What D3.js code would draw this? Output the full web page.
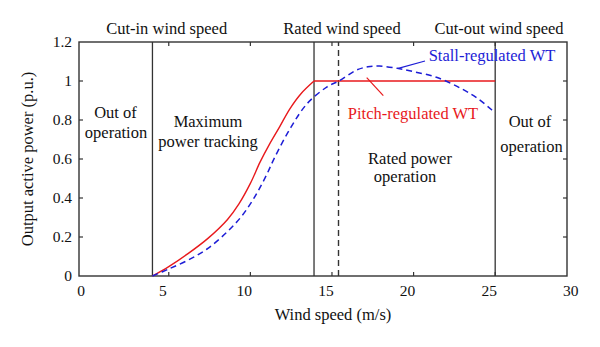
<!DOCTYPE html>
<html>
<head>
<meta charset="utf-8">
<script src="https://cdn.jsdelivr.net/npm/d3@7"></script>
<style>
  body { margin: 0; background: #fff; }
  svg text { font-family: "Liberation Serif", "Times New Roman", serif; }
</style>
</head>
<body>
<svg id="chart"></svg>
<script>
// wind speed (m/s) and power (p.u.)
let pitchSpeed = [4, 5, 6.2, 7.4, 8.6, 9.3, 10.0, 10.6, 11.2, 11.8, 12.4, 13.1, 13.9];
let pitchPower = [0, 0.048, 0.116, 0.193, 0.29, 0.37, 0.475, 0.585, 0.68, 0.766, 0.855, 0.935, 1.0];
let stallSpeed = [4, 4.95, 6.2, 7.4, 8.6, 9.4, 10.0, 10.5, 11.0, 11.5, 12.5, 13.5, 14.7, 15.4, 16.5, 17.2, 17.9, 19.0, 20.0, 21.4, 22.9, 23.9, 24.8, 25];
let stallPower = [0, 0.034, 0.082, 0.142, 0.228, 0.30, 0.37, 0.44, 0.52, 0.61, 0.765, 0.886, 0.97, 0.999, 1.056, 1.073, 1.077, 1.065, 1.048, 1.019, 0.962, 0.912, 0.851, 0.836];
let cutIn = 4, rated = 13.9, ratedStall = 15.4, cutOut = 25;
let xTicks = [0, 5, 10, 15, 20, 25, 30];
let yTicks = [0, 0.2, 0.4, 0.6, 0.8, 1, 1.2];

function drawChart() {
    let w = 600, h = 347;
    let svg = d3.select("#chart").attr("width", w).attr("height", h);

    let x = d3.scaleLinear().domain([-0.5, 29.4]).range([79, 567]);
    let y = d3.scaleLinear().domain([0, 1.2]).range([276, 42]);
    let [x0, x1] = x.range(), [y0, y1] = y.range();
    let ink = "#333";

    // ticks pointing inwards, all four sides
    let inner = [5, 10, 15, 20, 25];
    svg.append("g").selectAll("line").data(inner).enter().append("line")
        .attr("x1", d => x(d)).attr("x2", d => x(d)).attr("y1", y0).attr("y2", y0 - 4)
        .attr("stroke", ink).attr("stroke-width", 1.2);
    svg.append("g").selectAll("line").data(inner).enter().append("line")
        .attr("x1", d => x(d)).attr("x2", d => x(d)).attr("y1", y1).attr("y2", y1 + 4)
        .attr("stroke", ink).attr("stroke-width", 1.2);
    svg.append("g").selectAll("line").data(yTicks.slice(1, -1)).enter().append("line")
        .attr("x1", x0).attr("x2", x0 + 4).attr("y1", d => y(d)).attr("y2", d => y(d))
        .attr("stroke", ink).attr("stroke-width", 1.2);
    svg.append("g").selectAll("line").data(yTicks.slice(1, -1)).enter().append("line")
        .attr("x1", x1).attr("x2", x1 - 4).attr("y1", d => y(d)).attr("y2", d => y(d))
        .attr("stroke", ink).attr("stroke-width", 1.2);

    // tick labels
    let xAxis = svg.append("g").attr("transform", `translate(0,${y0})`)
        .call(d3.axisBottom(x).tickValues(xTicks).tickSize(0).tickPadding(9).tickFormat(d3.format("d")));
    xAxis.select(".domain").remove();
    xAxis.selectAll("text").attr("dx", -6.5).style("font-size", "15.5px").attr("fill", "#111");

    let yAxis = svg.append("g").attr("transform", `translate(${x0},0)`)
        .call(d3.axisLeft(y).tickValues(yTicks).tickSize(0).tickPadding(7).tickFormat(d => d3.format("~g")(d)));
    yAxis.select(".domain").remove();
    yAxis.selectAll("text").style("font-size", "15.5px").attr("fill", "#111");

    // box
    svg.append("rect").attr("x", x0).attr("y", y1).attr("width", x1 - x0).attr("height", y0 - y1)
        .attr("fill", "none").attr("stroke", ink).attr("stroke-width", 1.4);

    // region boundaries
    svg.selectAll(".vline").data([cutIn, rated, cutOut]).enter().append("line")
        .attr("x1", d => x(d)).attr("x2", d => x(d)).attr("y1", y0).attr("y2", y1)
        .attr("stroke", ink).attr("stroke-width", 1.3);
    svg.append("line")
        .attr("x1", x(ratedStall)).attr("x2", x(ratedStall)).attr("y1", y0).attr("y2", y1)
        .attr("stroke", ink).attr("stroke-width", 1.4).attr("stroke-dasharray", "6,4");

    // power curves
    let curve = d3.line().x(d => x(d[0])).y(d => y(d[1])).curve(d3.curveCatmullRom.alpha(0.5));
    svg.append("path").attr("d", curve(d3.zip(pitchSpeed, pitchPower)))
        .attr("fill", "none").attr("stroke", "#e8191c").attr("stroke-width", 1.4);
    svg.append("line")
        .attr("x1", x(rated)).attr("x2", x(cutOut)).attr("y1", y(1)).attr("y2", y(1))
        .attr("stroke", "#e8191c").attr("stroke-width", 1.4);
    svg.append("path").attr("d", curve(d3.zip(stallSpeed, stallPower)))
        .attr("fill", "none").attr("stroke", "#1d1dd6").attr("stroke-width", 1.5)
        .attr("stroke-dasharray", "6,4");

    // leaders
    svg.append("line").attr("x1", 366.7).attr("y1", 77.7).attr("x2", 383.3).attr("y2", 95.7)
        .attr("stroke", "#e8191c").attr("stroke-width", 1.2);
    svg.append("line").attr("x1", 398.3).attr("y1", 68.3).attr("x2", 425).attr("y2", 61)
        .attr("stroke", "#1d1dd6").attr("stroke-width", 1.2);

    function label(t, px, py, color, size) {
        svg.append("text").attr("x", px).attr("y", py).attr("text-anchor", "middle")
            .attr("fill", color || "#111").style("font-size", (size || 16.5) + "px").text(t);
    }
    label("Cut-in wind speed", 166.7, 33.5);
    label("Rated wind speed", 342, 33.5);
    label("Cut-out wind speed", 499, 33.5);

    label("Out of", 115.5, 118);
    label("operation", 116, 137.5);
    label("Maximum", 208, 127);
    label("power tracking", 208, 147);
    label("Pitch-regulated WT", 413, 119, "#e8191c");
    label("Stall-regulated WT", 492, 61, "#1d1dd6");
    label("Rated power", 410, 164);
    label("operation", 405, 182);
    label("Out of", 530, 127);
    label("operation", 531.5, 151.5);

    // axis titles
    label("Wind speed (m/s)", 333, 320);
    svg.append("text").attr("transform", `translate(33,${(y0 + y1) / 2}) rotate(-90)`)
        .attr("text-anchor", "middle").attr("fill", "#111").style("font-size", "16.5px")
        .text("Output active power (p.u.)");
}

window.onload = function() {
    drawChart();
}
</script>
</body>
</html>
